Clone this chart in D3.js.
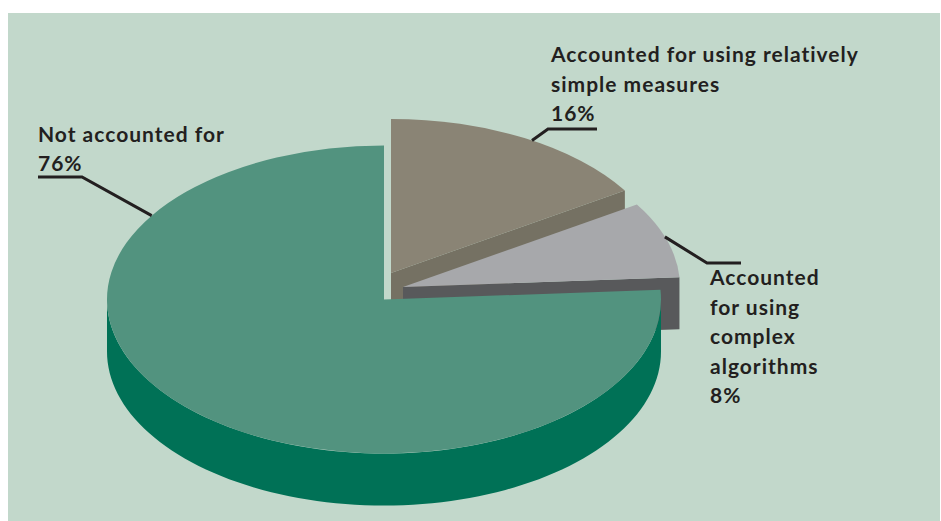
<!DOCTYPE html>
<html>
<head>
<meta charset="utf-8">
<script src="https://cdn.jsdelivr.net/npm/d3@7"></script>
<style>
  html, body { margin: 0; padding: 0; background: #ffffff; }
  svg { display: block; }
</style>
</head>
<body>
<svg id="chart" width="941" height="521"></svg>
<script>
// Share of variation, by how it is accounted for
const categories = [
  "Accounted for using relatively simple measures",
  "Accounted for using complex algorithms",
  "Not accounted for"
];
const shares = [16, 8, 76];
const labelLines = [
  ["Accounted for using relatively", "simple measures", "16%"],
  ["Accounted", "for using", "complex", "algorithms", "8%"],
  ["Not accounted for", "76%"]
];

// Styling and layout
const topColors  = ["#8a8475", "#a7a8ab", "#52937f"];
const sideColors = ["#757163", "#58595b", "#007156"];
const centers = [[391, 273], [403, 287], [384, 299.5]];   // exploded slice centres
const drawOrder = [0, 1, 2];                                // back to front
const RX = 277, RY = 154, DEPTH = 52;

// Leader lines: anchor angle on the rim (degrees), elbow, end, text origin
const leaders = [
  { angle: 30.6, elbow: [548, 129], end: [597, 129], text: [551, 62], align: "start" },
  { angle: 71,   elbow: [707, 263], end: [741, 263], text: [710, 285], align: "start" },
  { angle: 303,  elbow: [82, 177],  end: [38, 177],  text: [38, 141.7], align: "start" }
];
const LINE_H = 29.6;

const svg = d3.select("#chart");
svg.append("rect")
  .attr("x", 8).attr("y", 13).attr("width", 932).attr("height", 508)
  .attr("fill", "#c2d8cb");

const pie = d3.pie().sort(null).startAngle(0).endAngle(2 * Math.PI);
const arcs = pie(shares);

function rim(c, a, dy = 0) {
  return [c[0] + RX * Math.sin(a), c[1] - RY * Math.cos(a) + dy];
}
function arcTo(p, sweep, large) {
  return `A${RX},${RY} 0 ${large} ${sweep} ${p[0]},${p[1]}`;
}

const g = svg.append("g");

drawOrder.forEach(i => {
  const d = arcs[i];
  const c = centers[i];
  const a0 = d.startAngle, a1 = d.endAngle;
  const sg = g.append("g");

  // cut face at the start angle (faces the viewer when sin < 0)
  if (Math.sin(a0) < -1e-6) {
    const p = rim(c, a0);
    sg.append("path")
      .attr("d", `M${c[0]},${c[1]} L${p[0]},${p[1]} L${p[0]},${p[1] + DEPTH} L${c[0]},${c[1] + DEPTH}Z`)
      .attr("fill", sideColors[i]);
  }
  // cut face at the end angle (faces the viewer when sin > 0)
  if (Math.sin(a1) > 1e-6) {
    const p = rim(c, a1);
    sg.append("path")
      .attr("d", `M${c[0]},${c[1]} L${p[0]},${p[1]} L${p[0]},${p[1] + DEPTH} L${c[0]},${c[1] + DEPTH}Z`)
      .attr("fill", sideColors[i]);
  }
  // outer wall: only the front half of the rim is visible
  const b0 = Math.max(a0, Math.PI / 2), b1 = Math.min(a1, 3 * Math.PI / 2);
  if (b1 > b0) {
    const steps = d3.range(0, 1.0001, 1 / 90).map(t => b0 + (b1 - b0) * t);
    const topPts = steps.map(a => rim(c, a));
    const botPts = steps.slice().reverse().map(a => rim(c, a, DEPTH));
    sg.append("path")
      .attr("d", d3.line()(topPts.concat(botPts)) + "Z")
      .attr("fill", sideColors[i]);
  }
  // top face
  const s = rim(c, a0), e = rim(c, a1);
  const large = (a1 - a0) > Math.PI ? 1 : 0;
  sg.append("path")
    .attr("d", `M${c[0]},${c[1]} L${s[0]},${s[1]} ${arcTo(e, 1, large)} Z`)
    .attr("fill", topColors[i]);
});

// Leader lines and labels
const ink = "#231f20";
leaders.forEach((L, i) => {
  const p = rim(centers[i], L.angle * Math.PI / 180);
  svg.append("polyline")
    .attr("points", [p, L.elbow, L.end].map(q => q.join(",")).join(" "))
    .attr("fill", "none")
    .attr("stroke", ink)
    .attr("stroke-width", 3);

  const t = svg.append("text")
    .attr("x", L.text[0]).attr("y", L.text[1])
    .attr("text-anchor", L.align)
    .attr("font-family", "Lato, 'Open Sans', sans-serif")
    .attr("font-weight", 700)
    .attr("font-size", 21)
    .attr("letter-spacing", 1)
    .attr("fill", ink);
  labelLines[i].forEach((line, k) => {
    t.append("tspan")
      .attr("x", L.text[0])
      .attr("dy", k === 0 ? 0 : LINE_H)
      .text(line);
  });
});
</script>
</body>
</html>
